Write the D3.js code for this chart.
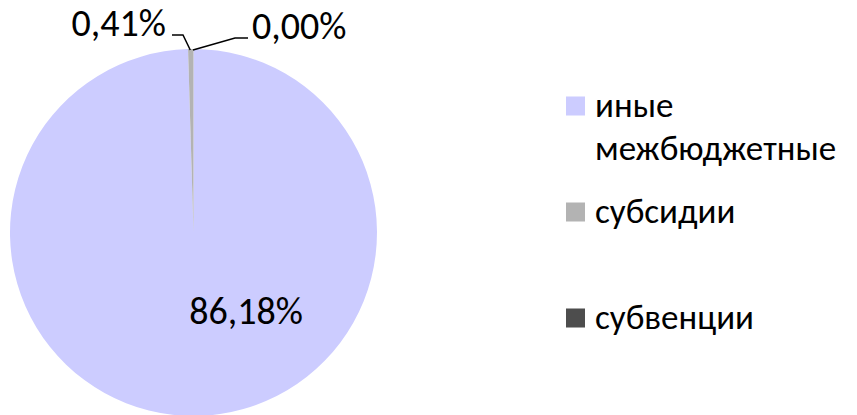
<!DOCTYPE html>
<html>
<head>
<meta charset="utf-8">
<script src="https://cdn.jsdelivr.net/npm/d3@7"></script>
<style>
  body { margin: 0; background: #fff; }
  svg text { font-family: Carlito, Calibri, Lato, "Open Sans", sans-serif; fill: #000; }
</style>
</head>
<body>
<svg id="chart" width="857" height="415"></svg>
<script>
// data
const categories = ["иные межбюджетные", "субсидии", "субвенции"];
const values = [86.18, 0.41, 0.00];
const valueLabels = ["86,18%", "0,41%", "0,00%"];
const legendLines = [["иные", "межбюджетные"], ["субсидии"], ["субвенции"]];
const colors = ["#ccccff", "#b3b3b3", "#4d4d4d"];

const svg = d3.select("#chart");
const cx = 193.5, cy = 232.5, r = 183.5;

const color = d3.scaleOrdinal().domain(categories).range(colors);

const pie = d3.pie().sort(null).value(d => d.value);
const arcs = pie(categories.map((c, i) => ({name: c, value: values[i], label: valueLabels[i]})));
const arc = d3.arc().innerRadius(0).outerRadius(r);
const rim = d3.arc().innerRadius(r).outerRadius(r);

const g = svg.append("g").attr("transform", `translate(${cx},${cy})`);

g.selectAll("path")
  .data(arcs)
  .enter()
  .append("path")
  .attr("d", arc)
  .attr("fill", d => color(d.data.name));

// label for the big slice sits inside
g.append("text")
  .attr("x", 52.5)
  .attr("y", 91)
  .attr("text-anchor", "middle")
  .style("font-size", "38px")
  .text(arcs[0].data.label);

// small slices: labels above with leader lines
// [elbow x, elbow y, line end x, text anchor]
const leaders = [null, [183 - cx, 35 - cy, 172 - cx, "end"], [235 - cx, 38 - cy, 248 - cx, "start"]];
for (let i = 1; i < arcs.length; i++) {
  const p = rim.centroid(arcs[i]);
  const L = leaders[i];
  g.append("polyline")
    .attr("points", [[p[0] - 0.5, p[1] + 1], [L[0], L[1]], [L[2], L[1]]].map(q => q.join(",")).join(" "))
    .attr("fill", "none")
    .attr("stroke", "#000")
    .attr("stroke-width", 1.5);
  g.append("text")
    .attr("x", L[3] === "end" ? L[2] - 6 : L[2] + 4)
    .attr("y", L[1] + 1)
    .attr("text-anchor", L[3])
    .style("font-size", "38px")
    .text(arcs[i].data.label);
}

// legend
const legendY = [106, 212, 318];
const legend = svg.append("g");
categories.forEach((c, i) => {
  legend.append("rect")
    .attr("x", 566)
    .attr("y", legendY[i] - 9.5)
    .attr("width", 19)
    .attr("height", 19)
    .attr("fill", color(c));
  const t = legend.append("text")
    .attr("x", 595)
    .attr("y", legendY[i] + 11)
    .style("font-size", "35px");
  legendLines[i].forEach((line, j) => {
    t.append("tspan").attr("x", 595).attr("dy", j === 0 ? 0 : 43).text(line);
  });
});
</script>
</body>
</html>
